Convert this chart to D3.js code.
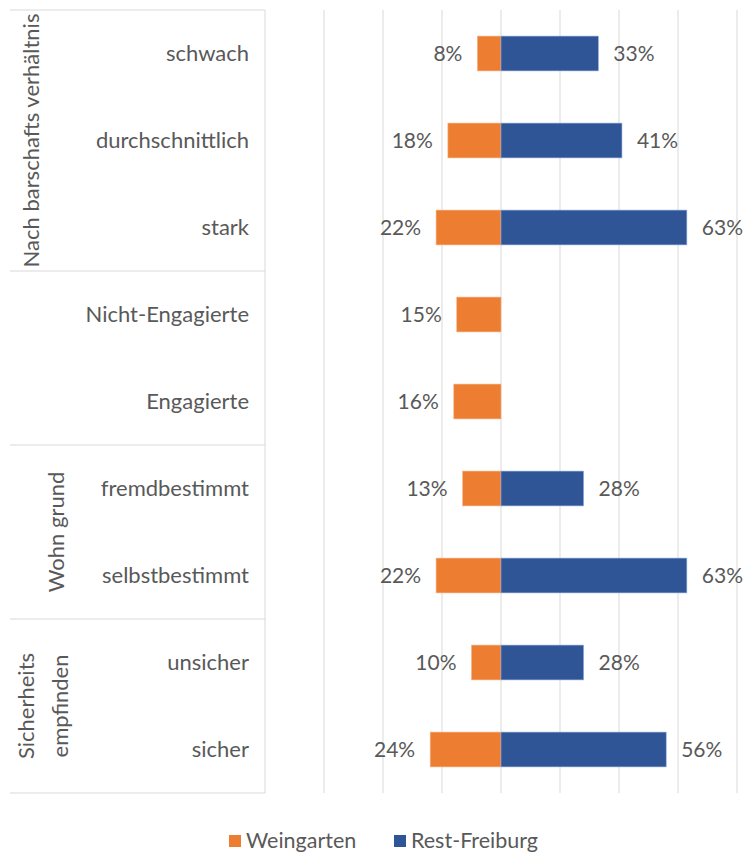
<!DOCTYPE html>
<html><head><meta charset="utf-8">
<script src="https://cdn.jsdelivr.net/npm/d3@7"></script>
<style>body{margin:0;background:#fff}svg{display:block}text{font-family:Lato,"Open Sans",sans-serif;fill:#595959}</style>
</head><body><svg id="c" width="745" height="855"></svg>
<script>
const categories = ["schwach","durchschnittlich","stark","Nicht-Engagierte","Engagierte","fremdbestimmt","selbstbestimmt","unsicher","sicher"];
const weingarten = [8,18,22,15,16,13,22,10,24];
const restFreiburg = [33,41,63,null,null,28,63,28,56];
const groups = [
  {lines:["Nach barschafts verhältnis"], start:0, end:3},
  {lines:[], start:3, end:5},
  {lines:["Wohn grund"], start:5, end:7},
  {lines:["Sicherheits","empfinden"], start:7, end:9}
];
const gridTicks = [-80,-60,-40,-20,0,20,40,60,80];
const seriesNames = ["Weingarten","Rest-Freiburg"];
const colors = ["#ED7D31","#2F5597"];

const svg = d3.select("#c");
const x = d3.scaleLinear().domain([-80,80]).range([265,737]);
const y = d3.scaleBand().domain(categories).range([10,793]).paddingInner(0.6).paddingOuter(0.3);
const band = d3.scaleBand().domain(categories).range([10,793]);

// gridlines
svg.append("g").selectAll("line").data(gridTicks).join("line")
  .attr("x1",d=>x(d)).attr("x2",d=>x(d)).attr("y1",10).attr("y2",793)
  .attr("stroke","#d9d9d9").attr("stroke-width",1);

// table lines
const tl = svg.append("g").attr("stroke","#d9d9d9").attr("stroke-width",1);
const bounds = [0,3,5,7,9];
bounds.forEach(b=>{
  const yy = b===9 ? band.range()[1] : band(categories[b]);
  tl.append("line").attr("x1",10).attr("x2",265).attr("y1",yy).attr("y2",yy);
});

// bars
const g = svg.append("g");
g.selectAll("rect.w").data(categories).join("rect").attr("class","w")
  .attr("x",(d,i)=>x(-weingarten[i])).attr("width",(d,i)=>x(0)-x(-weingarten[i]))
  .attr("y",d=>y(d)).attr("height",y.bandwidth()).attr("fill",colors[0])
  .attr("stroke","#f4b183").attr("stroke-width",0.6);
g.selectAll("rect.r").data(categories.filter((d,i)=>restFreiburg[i]!=null)).join("rect").attr("class","r")
  .attr("x",x(0)).attr("width",d=>x(restFreiburg[categories.indexOf(d)])-x(0))
  .attr("y",d=>y(d)).attr("height",y.bandwidth()).attr("fill",colors[1])
  .attr("stroke","#8faadc").attr("stroke-width",0.6);

// data labels
g.selectAll("text.wl").data(categories).join("text").attr("class","wl")
  .attr("x",(d,i)=>x(-weingarten[i])-15).attr("y",d=>y(d)+y.bandwidth()/2)
  .attr("dy","0.36em").attr("text-anchor","end").attr("font-size",21)
  .text((d,i)=>weingarten[i]+"%");
g.selectAll("text.rl").data(categories.filter((d,i)=>restFreiburg[i]!=null)).join("text").attr("class","rl")
  .attr("x",d=>x(restFreiburg[categories.indexOf(d)])+15).attr("y",d=>y(d)+y.bandwidth()/2)
  .attr("dy","0.36em").attr("text-anchor","start").attr("font-size",21)
  .text(d=>restFreiburg[categories.indexOf(d)]+"%");

// category labels
svg.append("g").selectAll("text").data(categories).join("text")
  .attr("x",249).attr("y",d=>y(d)+y.bandwidth()/2).attr("dy","0.36em")
  .attr("text-anchor","end").attr("font-size",22).text(d=>d);

// group labels
const gl = svg.append("g");
groups.forEach((grp,gi)=>{
  if(!grp.lines.length) return;
  const y0 = band(categories[grp.start]);
  const y1 = grp.end===9 ? band.range()[1] : band(categories[grp.end]);
  const cy = (y0+y1)/2;
  const n = grp.lines.length;
  const cx = gi===0 ? 31 : (n===1 ? 56 : 43);
  const t = gl.append("text").attr("transform",`translate(${cx},${cy}) rotate(-90)`)
    .attr("text-anchor","middle").attr("font-size",22);
  grp.lines.forEach((l,li)=>{
    t.append("tspan").attr("x",0).attr("dy", li===0 ? ((-(n-1)/2)*1.55+0.36)+"em" : "1.55em").text(l);
  });
});

// legend
const lg = svg.append("g");
const legX = [229,394];
seriesNames.forEach((s,i)=>{
  lg.append("rect").attr("x",legX[i]).attr("y",835).attr("width",12).attr("height",12).attr("fill",colors[i]);
  lg.append("text").attr("x",legX[i]+17).attr("y",848).attr("font-size",21.5).text(s);
});
</script></body></html>
